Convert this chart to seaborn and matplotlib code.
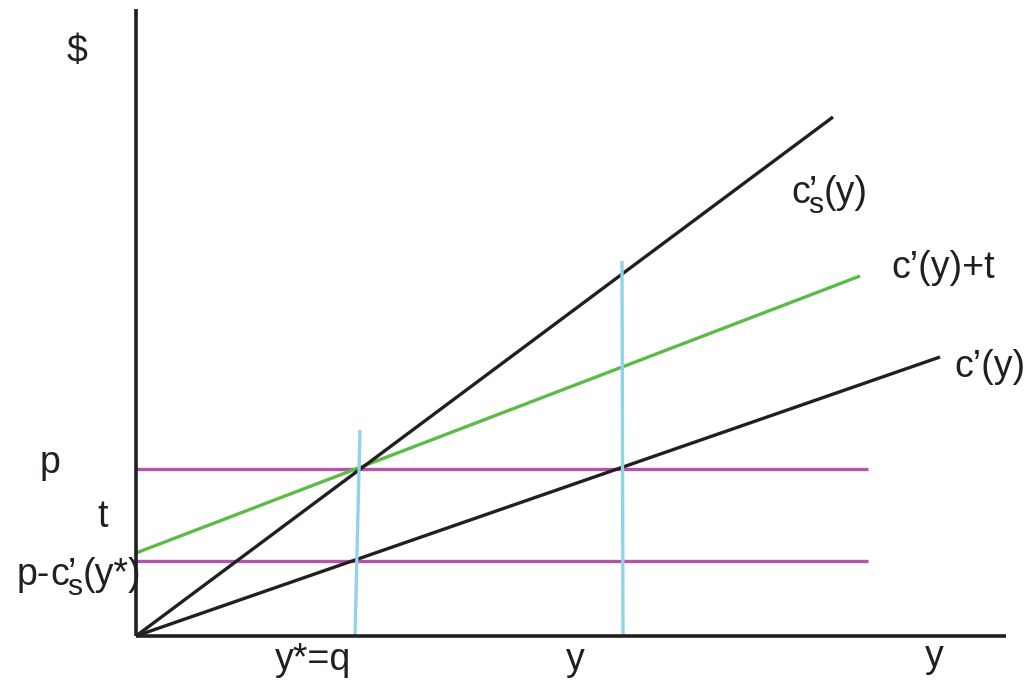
import matplotlib
matplotlib.use("Agg")
import matplotlib.pyplot as plt
import seaborn as sns
import pandas as pd

sns.set_theme(style="white")
plt.rcParams["font.family"] = ["Liberation Sans", "DejaVu Sans"]

# Curves of the diagram, each given by its end points (quantity, $)
curve_names = ["cs_marginal", "c_marginal_plus_t", "c_marginal", "p_level", "p_minus_cs", "y_star", "y_other"]
curve_x = [[0.0, 6.97], [0.0, 7.24], [0.0, 8.04], [0.0, 7.32], [0.0, 7.32], [2.19, 2.24], [4.87, 4.86]]
curve_y = [[0.0, 5.19], [0.83, 3.60], [0.0, 2.79], [1.67, 1.67], [0.75, 0.75], [0.0, 2.06], [0.0, 3.75]]
curve_colors = ["#231f20", "#5cbb46", "#231f20", "#b356aa", "#b356aa", "#8fd3ec", "#8fd3ec"]

# Axis extents
x_axis_end = 8.70
y_axis_end = 6.27

INK = "#231f20"
FS = 27

fig = plt.figure(figsize=(10.30, 6.82), dpi=100)
ax = fig.add_axes([0, 0, 1, 1])
ax.set_xlim(-1.36, 8.94)
ax.set_ylim(-0.46, 6.36)
ax.axis("off")

rows = []
for name, xs, ys in zip(curve_names, curve_x, curve_y):
    for i, (xv, yv) in enumerate(zip(xs, ys)):
        rows.append({"curve": name, "x": xv, "y": yv, "order": i})
df = pd.DataFrame(rows)

# reference lines first, then the cost curves on top
draw_order = ["p_level", "p_minus_cs", "c_marginal_plus_t", "cs_marginal", "c_marginal", "y_star", "y_other"]
color_map = dict(zip(curve_names, curve_colors))
for name in draw_order:
    sub = df[df["curve"] == name]
    sns.lineplot(data=sub, x="x", y="y", ax=ax, color=color_map[name],
                 linewidth=2.4, estimator=None, sort=False, legend=False,
                 solid_capstyle="butt")

# coordinate axes
sns.lineplot(x=[0, 0], y=[0, y_axis_end], ax=ax, color=INK, linewidth=2.6,
             estimator=None, sort=False, solid_capstyle="butt")
sns.lineplot(x=[0, x_axis_end], y=[0, 0], ax=ax, color=INK, linewidth=2.6,
             estimator=None, sort=False, solid_capstyle="butt")

renderer = fig.canvas.get_renderer()


def P(px, py):
    """pixel-style position (from top-left) -> data coordinates"""
    return (px - 136) / 100.0, (636 - py) / 100.0


def label(px, py, s, size=FS):
    x, y = P(px, py)
    t = ax.text(x, y, s, fontsize=size, color=INK, ha="left", va="baseline")
    bb = t.get_window_extent(renderer)
    return bb.x1  # right edge in pixels


def cs_label(px, py, head, tail):
    """head + c'_s + tail, with the subscript s tucked under the prime"""
    right = px
    if head:
        right = label(px, py, head)
    c_right = label(right, py, "c")
    label(c_right - 1, py, "\u2019")
    s_right = label(c_right - 2, py + 10, "s", size=FS * 0.8)
    label(s_right + 1, py, tail)


label(67, 62, "$")
label(40, 473, "p")
label(97, 527, "t")
cs_label(17, 585, "p-", "(y*)")

label(275, 670, "y*=q")
label(566, 670, "y")
label(925, 667, "y")

cs_label(791, 203, "", "(y)")
label(891, 278, "c\u2019(y)+t")
label(954, 377, "c\u2019(y)")

fig.savefig("out.png", dpi=100)
